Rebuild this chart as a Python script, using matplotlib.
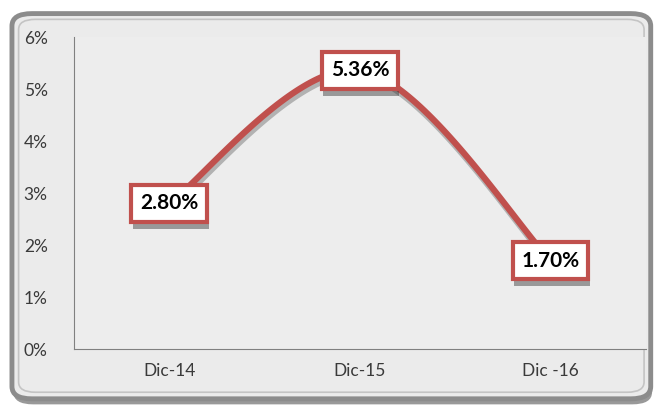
import numpy as np
import matplotlib
matplotlib.use("Agg")
import matplotlib.pyplot as plt
import matplotlib.patheffects as pe
from matplotlib.patches import FancyBboxPatch

# data
categories = ["Dic-14", "Dic-15", "Dic -16"]
values = [2.80, 5.36, 1.70]
labels = ["2.80%", "5.36%", "1.70%"]
yticks = [0, 1, 2, 3, 4, 5, 6]

plt.rcParams['font.family'] = ['Lato', 'DejaVu Sans']

fig = plt.figure(figsize=(6.64, 4.12), dpi=100)
fig.patch.set_facecolor("white")

# rounded frame with shadow
frame = FancyBboxPatch((0.018, 0.032), 0.962, 0.935,
                       boxstyle="round,pad=0,rounding_size=0.03",
                       transform=fig.transFigure, facecolor="#ebebeb",
                       edgecolor="#8c8c8c", linewidth=3.5, zorder=-5,
                       path_effects=[pe.withSimplePatchShadow(offset=(1, -4), shadow_rgbFace="#555555", alpha=0.6)])
fig.patches.append(frame)
inner = FancyBboxPatch((0.028, 0.048), 0.942, 0.905,
                       boxstyle="round,pad=0,rounding_size=0.025",
                       transform=fig.transFigure, facecolor="none",
                       edgecolor="#c4c4c4", linewidth=1.2, zorder=-4)
fig.patches.append(inner)

ax = fig.add_axes([74 / 664, 1 - 349 / 412, 572 / 664, 312 / 412])
ax.set_facecolor("#ededed")

x = np.arange(len(values))

# Excel-like smoothed line (Catmull-Rom through the data points)
pts = np.column_stack([x, values]).astype(float)
ext = np.vstack([pts[0], pts, pts[-1]])
curve = []
t = np.linspace(0, 1, 60)
for i in range(1, len(ext) - 2):
    p0, p1, p2, p3 = ext[i - 1], ext[i], ext[i + 1], ext[i + 2]
    c1 = p1 + (p2 - p0) / 6
    c2 = p2 - (p3 - p1) / 6
    seg = ((1 - t) ** 3)[:, None] * p1 + (3 * (1 - t) ** 2 * t)[:, None] * c1 \
        + (3 * (1 - t) * t ** 2)[:, None] * c2 + (t ** 3)[:, None] * p2
    curve.append(seg)
curve = np.vstack(curve)
ax.plot(curve[:, 0], curve[:, 1], color="#c0504d", linewidth=4.5, solid_capstyle="round",
        path_effects=[pe.SimpleLineShadow(offset=(1, -3), shadow_color="#444444", alpha=0.35), pe.Normal()])

for xi, v, lab in zip(x, values, labels):
    ax.text(xi, v, lab, ha="center", va="center", fontsize=15, fontweight="bold", color="black",
            bbox=dict(boxstyle="square,pad=0.42", facecolor="white", edgecolor="#c0504d", linewidth=3,
                      path_effects=[pe.withSimplePatchShadow(offset=(1, -5), shadow_rgbFace="#333333", alpha=0.45)]),
            zorder=5)

ax.set_xlim(-0.5, len(values) - 0.5)
ax.set_ylim(0, 6)
ax.set_xticks(x)
ax.set_xticklabels(categories, fontsize=12.5, color="#3a3a3a")
ax.set_yticks(yticks)
ax.set_yticklabels([f"{v}%" for v in yticks], fontsize=12.5, color="#3a3a3a")
ax.tick_params(length=0, pad=10)
ax.tick_params(axis="y", pad=19)
for s in ["top", "right"]:
    ax.spines[s].set_visible(False)
for s in ["left", "bottom"]:
    ax.spines[s].set_color("#808080")
    ax.spines[s].set_linewidth(0.8)

fig.savefig("out.png", dpi=100)
